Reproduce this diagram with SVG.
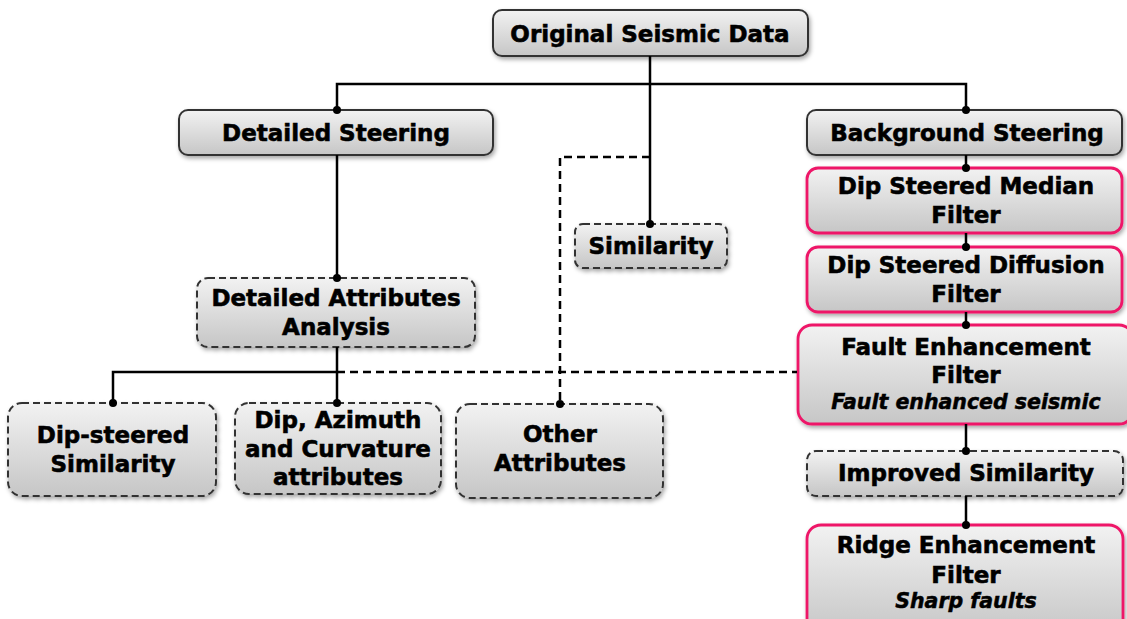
<svg xmlns="http://www.w3.org/2000/svg" width="1127" height="619" viewBox="0 0 1127 619">
<defs>
<linearGradient id="g" x1="0" y1="0" x2="0" y2="1">
<stop offset="0" stop-color="#f2f2f2"/>
<stop offset="1" stop-color="#c6c6c6"/>
</linearGradient>
<filter id="sh" x="-10%" y="-10%" width="130%" height="140%">
<feDropShadow dx="1.5" dy="2.5" stdDeviation="2" flood-color="#000" flood-opacity="0.35"/>
</filter>
<marker id="dot" markerWidth="10" markerHeight="10" refX="5" refY="5" markerUnits="userSpaceOnUse">
<circle cx="5" cy="5" r="4" fill="#000"/>
</marker>
</defs>
<style>
.box{fill:url(#g);filter:url(#sh);stroke-width:2}
.solid{stroke:#333}
.dash{stroke:#333;stroke-dasharray:7 4}
.pink{stroke:#ee1467;stroke-width:2.8}
.t{font-family:"DejaVu Sans",Verdana,sans-serif;font-weight:bold;font-size:23px;fill:#000;stroke:#000;stroke-width:0.6;text-anchor:middle}
.i{font-family:"DejaVu Sans",Verdana,sans-serif;font-weight:bold;font-style:italic;font-size:20.5px;fill:#000;stroke:#000;stroke-width:0.5;text-anchor:middle}
.c{fill:none;stroke:#000;stroke-width:2.5}
.cd{fill:none;stroke:#000;stroke-width:2.5;stroke-dasharray:8 5}
</style>
<g id="original">
<rect class="box solid" x="493" y="10" width="315" height="46" rx="9"/>
<text class="t" x="650" y="42" font-size="24">Original Seismic Data</text>
</g>
<g id="detailed-steering">
<rect class="box solid" x="179" y="110" width="314" height="45" rx="9"/>
<text class="t" x="336" y="141">Detailed Steering</text>
</g>
<g id="background-steering">
<rect class="box solid" x="807" y="110" width="315" height="45" rx="9"/>
<text class="t" x="967" y="141">Background Steering</text>
</g>
<g id="median">
<rect class="box pink" x="807" y="168" width="315" height="65" rx="11"/>
<text class="t" x="966" y="194">Dip Steered Median</text>
<text class="t" x="966" y="223">Filter</text>
</g>
<g id="diffusion">
<rect class="box pink" x="807" y="247" width="315" height="65" rx="11"/>
<text class="t" x="966" y="273">Dip Steered Diffusion</text>
<text class="t" x="966" y="302">Filter</text>
</g>
<g id="fault">
<rect class="box pink" x="798" y="325" width="335" height="99" rx="14"/>
<text class="t" x="966" y="355">Fault Enhancement</text>
<text class="t" x="966" y="383">Filter</text>
<text class="i" x="966" y="409">Fault enhanced seismic</text>
</g>
<g id="improved">
<rect class="box dash" x="807" y="451" width="316" height="45" rx="9"/>
<text class="t" x="966" y="481">Improved Similarity</text>
</g>
<g id="ridge">
<rect class="box pink" x="807" y="525" width="316" height="110" rx="14"/>
<text class="t" x="966" y="553">Ridge Enhancement</text>
<text class="t" x="966" y="583">Filter</text>
<text class="i" x="966" y="608">Sharp faults</text>
</g>
<g id="similarity">
<rect class="box dash" x="575" y="224" width="152" height="44" rx="8"/>
<text class="t" x="651" y="254">Similarity</text>
</g>
<g id="detailed-attributes">
<rect class="box dash" x="197" y="278" width="278" height="69" rx="11"/>
<text class="t" x="336" y="306">Detailed Attributes</text>
<text class="t" x="336" y="335">Analysis</text>
</g>
<g id="dip-steered-similarity">
<rect class="box dash" x="8" y="403" width="208" height="93" rx="14"/>
<text class="t" x="113" y="443">Dip-steered</text>
<text class="t" x="113" y="472">Similarity</text>
</g>
<g id="dip-azimuth">
<rect class="box dash" x="235" y="403" width="206" height="91" rx="14"/>
<text class="t" x="338" y="428">Dip, Azimuth</text>
<text class="t" x="338" y="457">and Curvature</text>
<text class="t" x="338" y="485">attributes</text>
</g>
<g id="other">
<rect class="box dash" x="456" y="404" width="207" height="94" rx="14"/>
<text class="t" x="560" y="442">Other</text>
<text class="t" x="560" y="471">Attributes</text>
</g>
<g id="connectors">
<path class="c" d="M650 56 V224" marker-end="url(#dot)"/>
<path class="c" d="M337 110 V84 H966 V110" marker-start="url(#dot)" marker-end="url(#dot)"/>
<path class="c" d="M337 155 V278" marker-end="url(#dot)"/>
<path class="c" d="M966 155 V168" marker-end="url(#dot)"/>
<path class="c" d="M966 233 V247" marker-end="url(#dot)"/>
<path class="c" d="M966 312 V325" marker-end="url(#dot)"/>
<path class="c" d="M966 424 V451" marker-end="url(#dot)"/>
<path class="c" d="M966 496 V525" marker-end="url(#dot)"/>
<path class="c" d="M337 347 V372 H113 V403" marker-end="url(#dot)"/>
<path class="c" d="M337 372 V403" marker-end="url(#dot)"/>
<path class="cd" d="M337 372 H797"/>
<path class="cd" d="M650 157 H560 V404" marker-end="url(#dot)"/>
</g>
</svg>
